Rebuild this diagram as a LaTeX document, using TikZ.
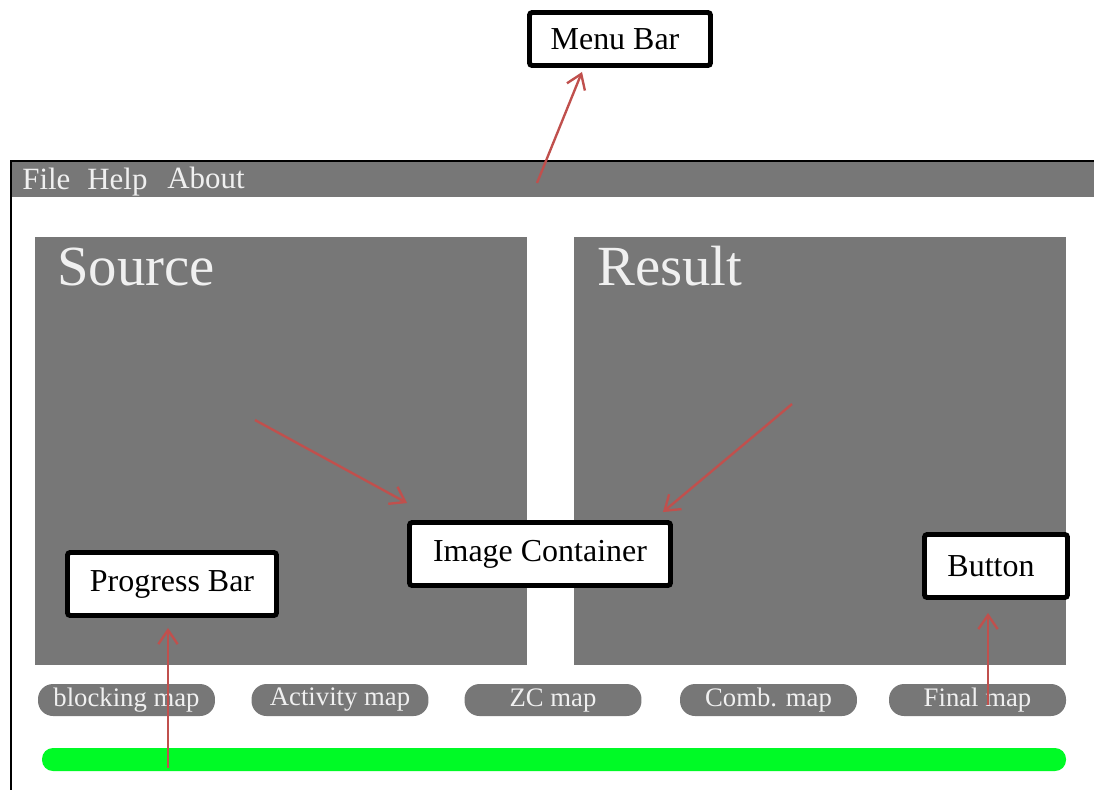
\documentclass[tikz,border=0pt]{standalone}
\usepackage{fontspec}
\setmainfont{Liberation Serif}
\usetikzlibrary{arrows.meta,calc}
\definecolor{panelgray}{RGB}{119,119,119}
\definecolor{txtlight}{RGB}{240,240,240}
\definecolor{arrowred}{RGB}{192,80,77}
\definecolor{progreen}{RGB}{0,250,38}
\tikzset{
  labelbox/.style={draw=black, line width=2.8pt, fill=white, rounded corners=1.5pt,
    inner sep=0pt, align=center, font=\fontsize{18.2}{21}\selectfont},
  mapbtn/.style={fill=panelgray, rounded corners=0.3cm, inner sep=0pt,
    minimum width=3.54cm, minimum height=0.64cm, text=txtlight,
    font=\fontsize{15.2}{18}\selectfont},
  menuitem/.style={anchor=base west, inner sep=0pt, text=txtlight,
    font=\fontsize{17.6}{20}\selectfont},
  paneltitle/.style={anchor=base west, inner sep=0pt, text=txtlight,
    font=\fontsize{32.3}{36}\selectfont},
  pointer/.style={draw=arrowred, line width=1.35pt,
    -{Straight Barb[length=8pt,width=11pt,line width=1.35pt]}}
}
\begin{document}
\begin{tikzpicture}[x=0.02cm,y=-0.02cm]
\useasboundingbox (0,0) rectangle (1094,789);
\clip (0,0) rectangle (1094,789);
% window frame and menu bar
\fill[panelgray] (12,162) rectangle (1100,197);
\draw[black, line width=1.2pt] (11,800) -- (11,161) -- (1100,161);
\node[menuitem] (mfile) at (22,189) {File};
\node[menuitem] (mhelp) at (87,189) {Help};
\node[menuitem] (mabout) at (167,188) {About};
% image panels
\fill[panelgray] (35,237) rectangle (527,665);
\fill[panelgray] (574,237) rectangle (1066,665);
\node[paneltitle] (tsrc) at (57,285) {Source};
\node[paneltitle] (tres) at (597,285) {Result};
% buttons
\node[mapbtn] (btn1) at (126.5,700) {blocking map};
\node[mapbtn] (btn2) at (340,700) {Activity map};
\node[mapbtn] (btn3) at (553,700) {ZC map};
\node[mapbtn] (btn4) at (768.5,700) {Comb. map};
\node[mapbtn] (btn5) at (977.5,700) {Final map};
% progress bar
\fill[progreen, rounded corners=0.22cm] (42,748) rectangle (1066,771);
% label boxes
\node[labelbox, minimum width=3.62cm, minimum height=1.06cm] (mb) at (620,39) {\hspace*{-0.2cm}Menu Bar};
\node[labelbox, minimum width=5.22cm, minimum height=1.26cm] (ic) at (540,554) {Image Container};
\node[labelbox, minimum width=4.18cm, minimum height=1.26cm] (pb) at (172,584) {Progress Bar};
\node[labelbox, minimum width=2.86cm, minimum height=1.26cm] (bt) at (996,566) {\hspace*{-0.2cm}Button};
% pointer origins
\coordinate (cmenu) at (537,183);
\coordinate (csrc) at (255,420);
\coordinate (cres) at (792,404);
\coordinate (cprog) at (168,768);
\coordinate (cbtn) at (988,705);
% pointers
\draw[pointer] (cmenu) -- ($(mb.south)+(-38,4)$);
\draw[pointer] (csrc) -- ($(ic.north west)+(0,-17)$);
\draw[pointer] (cres) -- ($(ic.north east)+(-10,-8)$);
\draw[pointer] (cprog) -- ($(pb.south)+(-4,10)$);
\draw[pointer] (cbtn) -- ($(bt.south)+(-8,13)$);
\end{tikzpicture}
\end{document}
